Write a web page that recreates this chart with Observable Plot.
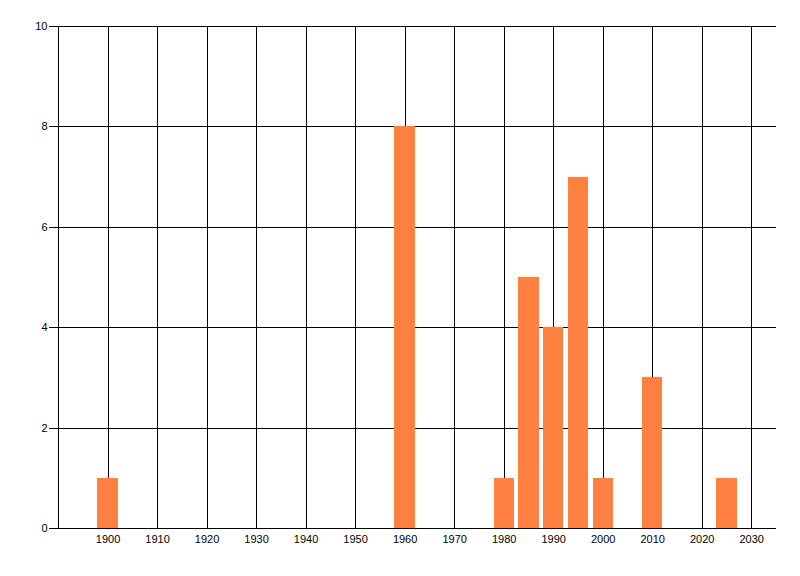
<!DOCTYPE html>
<html>
<head>
<meta charset="utf-8">
<script src="https://cdn.jsdelivr.net/npm/d3@7"></script>
<script src="https://cdn.jsdelivr.net/npm/@observablehq/plot@0.6"></script>
<style>
  body { margin: 0; background: white; }
</style>
</head>
<body>
<div id="chart"></div>
<script>
// bar data
const years = [1900, 1960, 1980, 1985, 1990, 1995, 2000, 2010, 2025]
const counts = [1, 8, 1, 5, 4, 7, 1, 3, 1]
const xTicks = d3.range(1900, 2031, 10)
const yTicks = [0, 2, 4, 6, 8, 10]

const data = years.map((y, i) => ({ year: y, count: counts[i] }))
const half = 2.05

let chart = Plot.plot({
    marks: [
        // grid
        Plot.ruleY(yTicks, { x1: 1890, x2: 2035, stroke: "black", strokeWidth: 1, shapeRendering: "crispEdges" }),
        Plot.ruleX(xTicks, { y1: 0, y2: 10, stroke: "black", strokeWidth: 1, shapeRendering: "crispEdges" }),
        Plot.ruleX([1890], { y1: 0, y2: 10, stroke: "black", strokeWidth: 1, shapeRendering: "crispEdges" }),
        // bars
        Plot.rectY(data, { x1: d => d.year - half, x2: d => d.year + half, y: "count", fill: "#ff8040", shapeRendering: "crispEdges" }),
        Plot.ruleY([0], { x1: 1890, x2: 2035, stroke: "black", strokeWidth: 1, shapeRendering: "crispEdges" }),
        Plot.axisY({ ticks: yTicks, tickSize: 9, tickPadding: 2, stroke: "black", label: null, shapeRendering: "crispEdges" }),
        Plot.axisX({ ticks: xTicks, tickSize: 0, tickPadding: 7, tickFormat: d => String(d), label: null }),
    ],
    x: { domain: [1890, 2035] },
    y: { domain: [0, 10] },
    style: {
        fontFamily: "'Liberation Sans', Arial, sans-serif",
        fontSize: 11,
        color: "black",
        background: "white",
    },
    width: 800,
    height: 576,
    marginLeft: 58,
    marginRight: 24,
    marginTop: 26,
    marginBottom: 48,
})

d3.select('#chart').append(() => chart)
</script>
</body>
</html>
